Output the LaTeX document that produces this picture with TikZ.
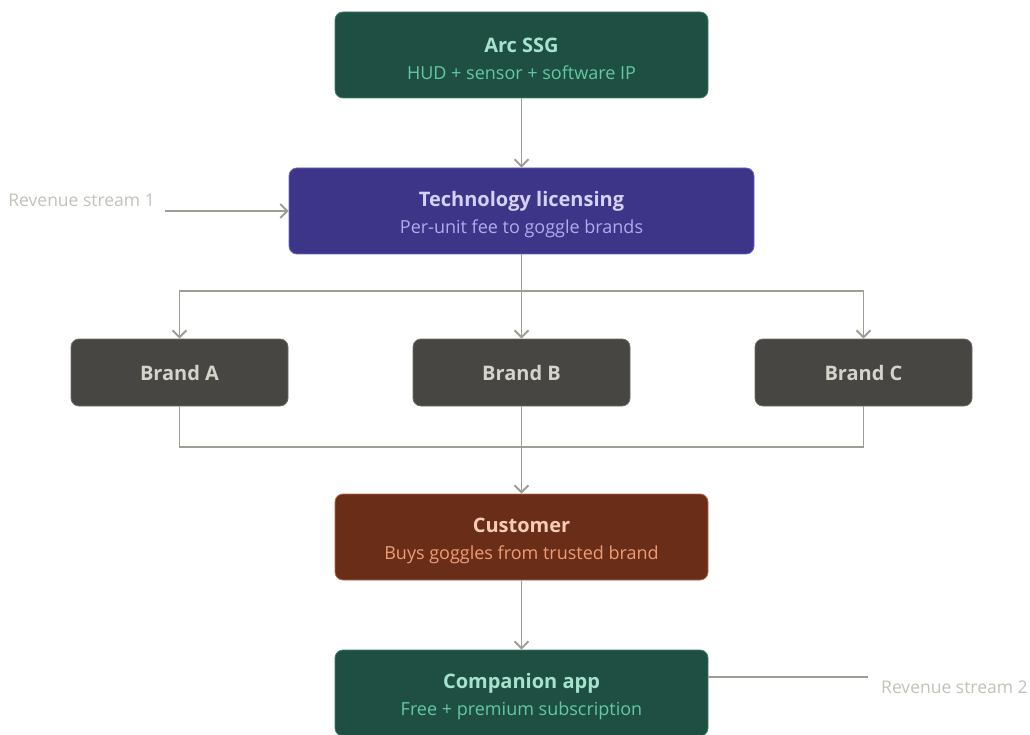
\documentclass[tikz,border=0pt]{standalone}
\usepackage{fontspec}
\setmainfont{Open Sans}
\usepackage{tikz}
\usetikzlibrary{arrows.meta,positioning}

\definecolor{tealbox}{HTML}{1F4F42}
\definecolor{tealedge}{HTML}{3E7F6A}
\definecolor{tealtitle}{HTML}{A6E3CE}
\definecolor{tealsub}{HTML}{62C9A3}
\definecolor{purplebox}{HTML}{3D3587}
\definecolor{purpleedge}{HTML}{6A62C0}
\definecolor{purpletitle}{HTML}{D4D1F7}
\definecolor{purplesub}{HTML}{B1ABEE}
\definecolor{graybox}{HTML}{474642}
\definecolor{grayedge}{HTML}{6E6C66}
\definecolor{graytitle}{HTML}{D6D3CA}
\definecolor{coralbox}{HTML}{6A2D17}
\definecolor{coraledge}{HTML}{B0684A}
\definecolor{coraltitle}{HTML}{F4CCB9}
\definecolor{coralsub}{HTML}{EE9C78}
\definecolor{linegray}{HTML}{9E9C94}
\definecolor{notegray}{HTML}{C4C1B8}

\newcommand{\boxlabel}[4]{{\fontsize{20}{27}\selectfont\bfseries\color{#3}\rule{0pt}{23pt}#1}\\{\color{#4}#2}}

\tikzset{
  card/.style={rounded corners=8pt, line width=0.8pt, align=center, inner sep=0pt},
  bigcard/.style={card, minimum width=373pt, minimum height=86pt,
    font=\fontsize{18}{27}\selectfont},
  brandcard/.style={card, fill=graybox, draw=grayedge, minimum width=217pt,
    minimum height=67pt, text=graytitle, font=\fontsize{20}{24}\selectfont\bfseries},
  link/.style={draw=linegray, line width=1.9pt},
  arrowlink/.style={link, -{Straight Barb[length=7pt, width=14pt, line width=1.9pt]}},
  note/.style={text=notegray, font=\fontsize{17.5}{21}\selectfont, inner sep=0pt}
}

\begin{document}
\begin{tikzpicture}[x=1pt, y=-1pt]
  \useasboundingbox (0,0) rectangle (1030,735);

  % Main column
  \node[bigcard, fill=tealbox, draw=tealedge] (arc) at (521.5,55)
    {\boxlabel{Arc SSG}{HUD + sensor + software IP}{tealtitle}{tealsub}};
  \node[bigcard, fill=purplebox, draw=purpleedge, minimum width=465pt] (tech) at (521.5,211)
    {\boxlabel{Technology licensing}{Per-unit fee to goggle brands}{purpletitle}{purplesub}};

  % Brands
  \node[brandcard] (brandA) at (179.5,372.5) {Brand A};
  \node[brandcard] (brandB) at (521.5,372.5) {Brand B};
  \node[brandcard] (brandC) at (863.5,372.5) {Brand C};

  \node[bigcard, fill=coralbox, draw=coraledge] (cust) at (521.5,537)
    {\boxlabel{Customer}{Buys goggles from trusted brand}{coraltitle}{coralsub}};
  \node[bigcard, fill=tealbox, draw=tealedge] (app) at (521.5,693)
    {\boxlabel{Companion app}{Free + premium subscription}{tealtitle}{tealsub}};

  % Revenue notes
  \node[note, anchor=east] (rev1) at (155,200) {Revenue stream 1};
  \node[note, anchor=west] (rev2) at (881,687) {Revenue stream 2};
  \coordinate (rev1end) at (165,211);
  \coordinate (rev2end) at (868,677);

  % Connectors
  \draw[arrowlink] (arc) -- (tech);
  \draw[arrowlink] (rev1end) -- (tech.west);
  \draw[link] ([yshift=16pt]app.east) -- (rev2end);

  % Fan-out to brands
  \coordinate (top) at (521.5,291);
  \draw[arrowlink] (tech) -- (brandB);
  \draw[arrowlink] (top) -| (brandA.north);
  \draw[arrowlink] (top) -| (brandC.north);

  % Merge into customer
  \coordinate (bottom) at (521.5,447);
  \draw[link] (brandA.south) |- (bottom);
  \draw[link] (brandC.south) |- (bottom);
  \draw[arrowlink] (brandB) -- (cust);
  \draw[arrowlink] (cust) -- (app);
\end{tikzpicture}
\end{document}
